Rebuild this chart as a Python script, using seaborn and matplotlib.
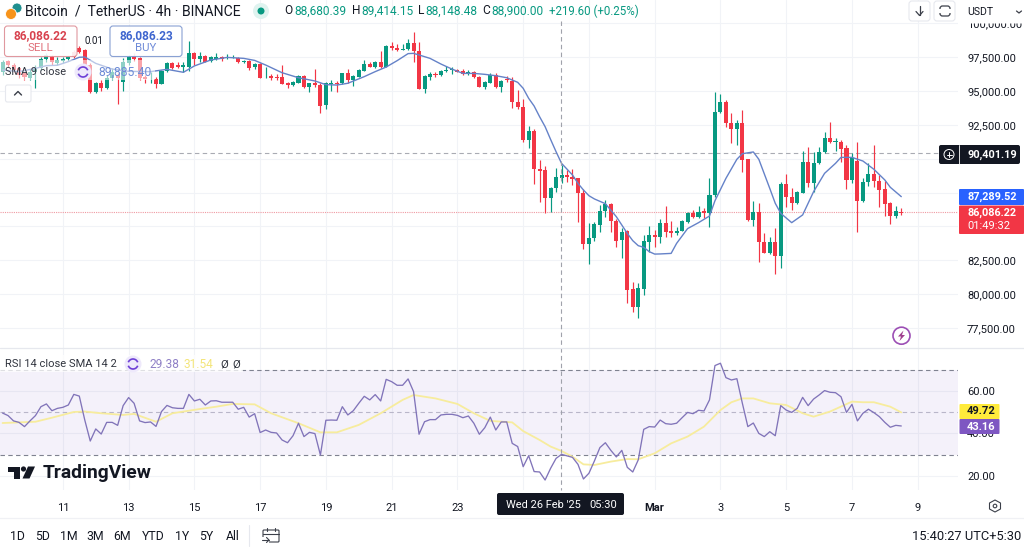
import matplotlib
matplotlib.use('Agg')
import matplotlib.pyplot as plt
from matplotlib.patches import Arc, Circle, FancyBboxPatch, Polygon, Rectangle
import seaborn as sns

# 4h candles, left to right
opens = [96430, 97210, 96920, 96670, 96300, 95980, 96430, 96670, 97340, 97530,
         97040, 97210, 97340, 97900, 98200, 98030, 96920, 94900, 95620, 95200,
         95940, 96180, 95690, 97090, 97580, 97410, 96010, 95860, 95890, 95520,
         96500, 97040, 96920, 96800, 96800, 97830, 97340, 97580, 97210, 97390,
         97530, 97460, 97480, 97460, 97140, 97210, 96800, 96990, 96010, 96110,
         96060, 96010, 95570, 95420, 95620, 96110, 95270, 95570,
         95440, 93970, 95520, 95570, 95570, 96300, 95810, 96060, 96500, 96970,
         96750, 97120, 96800, 98320, 98200, 98030, 98080, 98520, 97980, 95150,
         96060, 96230, 96180, 96500, 96550, 96550, 96480, 96350, 96430, 96060,
         95320, 95610, 96180, 95270, 95860, 95740, 94210, 93840, 91380, 92050,
         89240, 89170, 87080, 87810, 88600, 88800, 88680, 88550, 87440, 83700,
         84120, 85110, 86170, 86630, 85430, 84000, 84640, 80360, 79080,
         80410, 83880, 84370, 84250, 85230, 84660, 84490, 84690, 85350, 85970,
         85720, 86140, 85970, 87320, 93430, 94160, 92660, 92190, 92660, 89960,
         85480, 86090, 83880, 83020, 83830, 82840, 88110, 87200, 86710, 87490,
         89730, 88180, 89660, 90520, 91510, 91260, 91260, 90770, 88430, 89830,
         86900, 88260, 88850, 88380, 87740, 86710, 85800, 86090]
closes = [97170, 96920, 96550, 96180, 96010, 96430, 96670, 97340, 97660, 97120,
          97290, 97360, 97480, 97530, 97900, 96920, 94900, 95620, 95200, 95940,
          96430, 95940, 97170, 97530, 97340, 95940, 95860, 95910, 95520, 96500,
          97040, 96720, 96800, 96920, 97830, 97360, 97580, 97170, 97480, 97480,
          97340, 97530, 97530, 97140, 97240, 96670, 96990, 95980, 96060, 95940,
          95940, 95520, 95440, 95690, 96110, 95270, 95570, 95440,
          93920, 95570, 95570, 95520, 96300, 95810, 96110, 96550, 96970, 96800,
          97170, 96750, 98320, 98150, 98030, 98080, 98520, 97950, 95170, 96110,
          96260, 96180, 96500, 96550, 96600, 96430, 96260, 96430, 96010, 95320,
          95660, 96180, 95270, 95760, 95810, 94160, 93800, 91380, 92050, 89220,
          89120, 87080, 87860, 88630, 88800, 88630, 88530, 87440, 83700, 84170,
          85180, 86170, 86630, 85380, 83950, 84590, 80310, 79080, 80430,
          83920, 84370, 84250, 85230, 84620, 84490, 84690, 85430, 85970, 85720,
          86090, 85970, 87320, 93470, 94160, 92610, 92190, 92660, 89910, 85480,
          86090, 83880, 83060, 83830, 82840, 88110, 87150, 86710, 87520, 89730,
          88180, 89660, 90520, 91510, 91210, 91310, 90720, 88430, 90080, 86900,
          88310, 88850, 88360, 87690, 86660, 85800, 86140, 86020]
highs = [97290, 97290, 97090, 96800, 96430, 96600, 96920, 97530, 97780, 97660,
         97480, 97530, 97580, 98030, 98320, 98080, 97040, 95690, 95810, 96180,
         96670, 96300, 97410, 97660, 97780, 97480, 96180, 96430, 96010, 96550,
         97120, 97170, 97170, 97170, 98720, 97900, 97900, 97660, 97580, 97830,
         97610, 97730, 97660, 97530, 97290, 97260, 97040, 97040, 96800, 96250,
         96250, 96920, 95690, 95740, 96180, 96160, 95620, 96600,
         95570, 95690, 95810, 95740, 96350, 96600, 96160, 96600, 97290, 97170,
         97240, 97980, 98370, 98640, 98450, 98470, 98820, 99380, 98640, 96180,
         96430, 96430, 96550, 96850, 96750, 96600, 96600, 96550, 96480, 96110,
         95710, 96300, 96350, 95810, 96110, 96060, 95070, 94390, 92420, 92170,
         89900, 89460, 87910, 89340, 89540, 89170, 89220, 88600, 87740, 85280,
         85350, 86580, 86950, 86700, 85530, 84860, 84740, 80920, 80800,
         84370, 85030, 84740, 85530, 86510, 85430, 84980, 85480, 86090, 86210,
         86510, 86340, 88600, 94950, 94780, 94340, 93350, 92860, 93600, 90000,
         86900, 86760, 84490, 84250, 84860, 88310, 88870, 87810, 87640, 90600,
         90890, 90520, 90890, 92000, 92690, 91510, 91380, 91010, 90400, 91210,
         88550, 89660, 91010, 88800, 88380, 86780, 86530, 86340]
lows = [96180, 96800, 96430, 95940, 95810, 95810, 95200, 96550, 97170, 96920,
        96920, 97090, 97240, 97410, 97780, 96800, 94830, 94880, 95020, 95120,
        95810, 94020, 95020, 96920, 97240, 95810, 95570, 95570, 95200, 95490,
        96430, 96620, 96720, 96430, 96500, 96920, 97170, 97120, 97170, 97290,
        97210, 97390, 97410, 97090, 97040, 96550, 96600, 95940, 95960, 95810,
        95810, 95490, 95200, 95370, 95570, 95220, 94950, 95270,
        93350, 93650, 95020, 94950, 95520, 95570, 95390, 96010, 96450, 96750,
        96700, 96720, 96750, 98030, 97980, 98000, 98030, 97170, 95120, 94830,
        95810, 96060, 96130, 96430, 96260, 96380, 96210, 96180, 95960, 95270,
        95150, 95570, 95220, 94950, 95690, 93720, 93650, 91260, 90820, 88140,
        86830, 85970, 86090, 87570, 88180, 88300, 88060, 85350, 83310, 82200,
        83920, 84610, 85720, 84570, 83510, 82650, 79370, 78710, 78220,
        79940, 83140, 83510, 83750, 84250, 84250, 84370, 84640, 85230, 85600,
        85600, 85600, 84980, 87200, 93380, 92370, 91140, 91010, 89040, 85430,
        85030, 82400, 83020, 82970, 81460, 81960, 86460, 86210, 86660, 87450,
        87890, 87570, 89610, 90450, 91190, 90600, 89780, 87770, 88180, 84570,
        86830, 87990, 87890, 86460, 85770, 85160, 85650, 85850]

# SMA 9, read at the candles where the line bends
sma_pos = [0, 3, 6, 8, 10, 12, 14, 15, 17, 20, 23, 27, 30, 33, 35, 38, 41, 44, 46, 48,
           51, 54, 57, 59, 61, 63, 66, 68, 70, 72, 74, 75, 76, 78, 80, 82, 84, 86, 88, 90,
           92, 94, 95, 96, 97, 98, 99, 100, 101, 102, 104, 105, 106, 107, 108, 110, 112, 114, 115, 116,
           117, 118, 119, 120, 122, 123, 125, 127, 129, 130, 132, 134, 135, 137, 138, 140, 141, 142, 144, 146,
           148, 150, 152, 153, 155, 157, 159, 161, 162, 164]
sma_vals = [96550, 96430, 96670, 96870, 96900, 97170, 97490, 97510, 97040, 96620,
            96450, 96430, 96600, 96380, 96850, 97290, 97480, 97410, 97260, 96920,
            96350, 95980, 95740, 95470, 95440, 95570, 96060, 96430, 96770, 97240,
            97760, 97780, 97660, 97410, 96990, 96620, 96300, 96300, 96230, 96130,
            95980, 95640, 95200, 94460, 93890, 93100, 92370, 91430, 90520, 89660,
            88800, 88180, 87690, 87270, 87030, 86680, 85720, 84490, 83950, 83580,
            83460, 83140, 82960, 82970, 83010, 83750, 84840, 85280, 85770, 86900,
            88550, 89960, 90370, 90500, 89960, 87810, 86710, 85970, 85280, 85850,
            87570, 88920, 89660, 90100, 90100, 89830, 89220, 88430, 87890, 87200]

rsi_vals = [49.6, 48.4, 45.9, 45.2, 43.2, 45.9, 48.4, 52.6, 53.9, 50.7,
            51.8, 52.3, 53.4, 58.4, 57.6, 46.3, 36.4, 42.1, 39.7, 45.2,
            45.2, 43.8, 53.1, 56.9, 54.2, 45.9, 45.1, 45.4, 43.3, 50.3,
            53.2, 52.1, 51.8, 51.8, 58.4, 55.3, 56.1, 53.4, 55.3, 55.4,
            54.7, 54.7, 54.7, 51.4, 52.3, 47.7, 49.3, 40.4, 41.6, 40.5,
            40.2, 36.9, 35.6, 38.9, 44.8, 38.5, 40.5, 39.9, 29.8, 46.2,
            46.3, 46.2, 52.6, 48.7, 50.7, 54.2, 57.5, 55.8, 58.3, 55.3,
            65.5, 64.4, 62.7, 62.7, 65.7, 59.7, 39.6, 45.5, 46.5, 46.5,
            48.7, 49.0, 49.0, 48.5, 47.4, 48.2, 44.8, 39.6, 42.7, 47.7,
            41.6, 45.4, 45.4, 35.3, 33.8, 24.3, 29.5, 22.0, 21.8, 18.0,
            23.5, 28.2, 30.1, 29.4, 28.7, 25.4, 18.5, 21.2, 27.0, 33.3,
            35.6, 32.0, 28.9, 32.0, 24.0, 21.8, 27.5, 41.9, 43.2, 43.0,
            46.3, 44.6, 44.3, 44.8, 47.4, 49.9, 49.3, 50.9, 50.6, 55.8,
            72.0, 73.1, 66.3, 65.2, 65.8, 54.2, 43.2, 44.9, 40.0, 38.5,
            40.8, 38.9, 53.1, 51.0, 49.9, 51.8, 57.0, 53.1, 56.2, 58.1,
            60.2, 59.4, 59.2, 57.3, 49.9, 53.7, 45.9, 49.5, 51.4, 49.8,
            47.9, 45.2, 42.9, 43.8, 43.5]
rsi_sma_pos = [0, 3, 6, 9, 13, 15, 18, 22, 24, 28, 31, 36, 39, 42, 46, 49, 54, 58, 61, 65,
               69, 73, 75, 79, 83, 86, 89, 93, 95, 98, 100, 102, 104, 106, 108, 111, 114, 116, 119, 122,
               125, 128, 131, 133, 135, 137, 140, 143, 146, 148, 151, 155, 157, 159, 162, 164]
rsi_sma_vals = [44.9, 45.2, 45.5, 47.4, 50.1, 50.3, 49.5, 48.7, 49.2, 45.5,
                49.5, 51.5, 52.6, 53.9, 53.7, 49.5, 44.8, 40.5, 40.5, 44.0,
                49.5, 55.8, 58.1, 56.5, 53.9, 49.5, 45.9, 45.2, 41.1, 36.9,
                33.8, 31.7, 29.0, 25.4, 25.1, 26.7, 27.9, 27.8, 30.6, 35.3,
                38.5, 43.2, 51.0, 54.7, 56.5, 56.5, 54.2, 53.4, 49.5, 47.9,
                50.3, 55.0, 54.7, 54.7, 52.6, 49.9]

price_ticks = [100000, 97500, 95000, 92500, 90000, 87500, 85000, 82500, 80000, 77500]
price_hidden = [90000, 85000]  # these two sit fully behind the price tags
rsi_ticks = [60, 40, 20]
day_pos = [11, 23, 35, 47, 59, 71, 83, 95, 107, 119, 131, 143, 155, 167]
day_labels = ['11', '13', '15', '17', '19', '21', '23', '', '', 'Mar', '3', '5', '7', '9']
hover_price = 90401.19
last_price = 86086.22

GREEN = '#089981'
RED = '#f23645'
GRID = '#f1f3f7'
TEXT = '#131722'
W, H = 1024, 547

sns.set_theme(style='white')
plt.rcParams['font.family'] = ['Roboto', 'DejaVu Sans']

fig = plt.figure(figsize=(W / 100, H / 100), dpi=100, facecolor='white')
ax = fig.add_axes([0, 1 - 347.5 / H, 958 / W, 347.5 / H])
ax_rsi = fig.add_axes([0, 1 - 490 / H, 958 / W, 141 / H])
top = fig.add_axes([0, 0, 1, 1], facecolor='none')

# price pane
colors = [GREEN if c >= o else RED for o, c in zip(opens, closes)]
idx = list(range(len(opens)))
bottoms = [min(o, c) for o, c in zip(opens, closes)]
heights = [max(abs(c - o), 30) for o, c in zip(opens, closes)]
ax.vlines(idx, lows, highs, colors=colors, linewidth=0.85, zorder=3)
ax.bar(idx, heights, bottom=bottoms, width=0.74, color=colors, linewidth=0, zorder=4)
sns.lineplot(x=sma_pos, y=sma_vals, ax=ax, color='#6582c8', linewidth=1.0, zorder=5, errorbar=None)
ax.axhline(hover_price, color='#a9abb3', linewidth=0.8, dashes=(4, 3), zorder=2)
ax.axhline(last_price, color='#ef9aa2', linewidth=0.8, dashes=(1, 1), zorder=2)

ax.set_xlim(-0.47, 174.35)
ax.set_ylim(95000 - (347.5 - 91) * 73.83, 95000 + 91 * 73.83)
ax.set_xticks(day_pos)
ax.set_yticks(price_ticks)
ax.set_yticklabels(['' if p in price_hidden else f'{p:,.2f}' for p in price_ticks], fontsize=8, color=TEXT)
ax.yaxis.tick_right()
ax.tick_params(axis='y', length=0, pad=6.5)
ax.tick_params(axis='x', length=0, labelbottom=False)
ax.grid(True, color=GRID, linewidth=0.8)
ax.set_axisbelow(True)
sns.despine(ax=ax, left=True, bottom=True, right=True, top=True)

# RSI pane
ax_rsi.axhspan(30, 70, color='#7e57c2', alpha=0.08, linewidth=0, zorder=1)
for level, col in [(70, '#7f8290'), (50, '#b9b6c9'), (30, '#7f8290')]:
    ax_rsi.axhline(level, color=col, linewidth=0.8, dashes=(4, 3), zorder=2)
sns.lineplot(x=rsi_sma_pos, y=rsi_sma_vals, ax=ax_rsi, color='#f7ec9d', linewidth=1.3, zorder=3, errorbar=None)
sns.lineplot(x=idx, y=rsi_vals, ax=ax_rsi, color='#8174b9', linewidth=0.95, zorder=4, errorbar=None)

ax_rsi.set_xlim(-0.47, 174.35)
ax_rsi.set_ylim(60 - (490 - 391) / 2.12, 60 + (391 - 349) / 2.12)
ax_rsi.set_xticks(day_pos)
ax_rsi.set_xticklabels(day_labels, fontsize=8, color=TEXT)
ax_rsi.get_xticklabels()[day_labels.index('Mar')].set_fontweight('bold')
ax_rsi.set_yticks(rsi_ticks)
ax_rsi.set_yticklabels([f'{v:.2f}' for v in rsi_ticks], fontsize=8, color=TEXT)
ax_rsi.yaxis.tick_right()
ax_rsi.tick_params(axis='y', length=0, pad=6.5)
ax_rsi.tick_params(axis='x', length=0, pad=9.5)
ax_rsi.grid(True, color=GRID, linewidth=0.8)
ax_rsi.set_axisbelow(True)
sns.despine(ax=ax_rsi, left=True, bottom=True, right=True, top=True)

# everything below is the TradingView screen furniture, in pixels
top.set_xlim(0, W)
top.set_ylim(H, 0)
top.axis('off')


def box(x0, y0, x1, y1, fc, ec='none', lw=0.8, round_=1.5, z=6, alpha=None):
    top.add_patch(FancyBboxPatch((x0, y0), x1 - x0, y1 - y0, boxstyle=f'round,pad=0,rounding_size={round_}',
                                 fc=fc, ec=ec, lw=lw, zorder=z, alpha=alpha))


def label(x, y, s, size=8, color=TEXT, ha='left', weight='normal', z=8):
    top.text(x, y, s, fontsize=size, color=color, ha=ha, va='center', fontweight=weight, zorder=z)


def refresh_icon(x, y):
    top.add_patch(Circle((x, y), 8.5, fc='#eee9fb', ec='none', zorder=7))
    top.add_patch(Arc((x, y), 10, 10, theta1=20, theta2=160, ec='#6d3fd6', lw=1.2, zorder=8))
    top.add_patch(Arc((x, y), 10, 10, theta1=200, theta2=340, ec='#6d3fd6', lw=1.2, zorder=8))


# crosshair
top.plot([561, 561], [21, 490], color='#a0a2ab', linewidth=0.8, dashes=(4, 3), zorder=1)

# separators
top.plot([0, W], [348.3, 348.3], color='#e6e8ee', linewidth=0.9, zorder=1)
top.plot([0, W], [517.5, 517.5], color='#f0f1f5', linewidth=0.9, zorder=1)
top.plot([249, 249], [525, 546], color='#e6e8ee', linewidth=0.8, zorder=1)

# header
top.add_patch(Circle((17, 8), 5, fc='#1f8f8f', ec='white', lw=0.6, zorder=7))
top.add_patch(Circle((11, 14), 5.5, fc='#f7931a', ec='white', lw=0.6, zorder=8))
label(25, 11.5, 'Bitcoin  /  TetherUS · 4h · BINANCE', size=10.05)
top.add_patch(Circle((261, 11), 8, fc='#dff3ef', ec='none', zorder=7))
top.add_patch(Circle((261, 11), 3.5, fc=GREEN, ec='none', zorder=8))
for x_l, x_v, letter, val in [(284, 294, 'O', '88,680.39'), (352, 361, 'H', '89,414.15'),
                              (418, 425, 'L', '88,148.48'), (482, 491, 'C', '88,900.00')]:
    label(x_l, 11, letter, size=8.6)
    label(x_v, 11, val, size=8.6, color=GREEN)
label(549, 11, '+219.60 (+0.25%)', size=8.3, color=GREEN)

# top right buttons
box(962, 0, 1024, 23.5, 'white', z=6, round_=0.5)
box(909, 1, 930, 21, 'white', ec='#e6e8ee', round_=3)
box(934, 1, 955, 21, 'white', ec='#e6e8ee', round_=3)
top.plot([919.5, 919.5], [6, 15], color='#3b3f49', linewidth=0.9, zorder=8)
top.plot([916, 919.5, 923], [11.5, 15.5, 11.5], color='#3b3f49', linewidth=0.9, zorder=8)
box(940, 6, 950, 16, 'none', ec='#3b3f49', lw=0.9, round_=2.5, z=8)
top.add_patch(Rectangle((938, 9), 14, 4, fc='white', ec='none', zorder=8.5))
label(967, 12, 'USDT', size=7.6)
top.plot([1016.5, 1019, 1021.5], [11, 13, 11], color='#3b3f49', linewidth=0.9, zorder=8)

# sell / buy
top.add_patch(Rectangle((0, 60), 155, 20, fc='white', ec='none', alpha=0.55, zorder=5))
box(4.5, 26, 77, 56.5, 'white', ec='#dd8d95', round_=3, alpha=0.9)
box(110, 26, 182, 56.5, 'white', ec='#7d97cf', round_=3, alpha=0.9)
label(40.5, 35.5, '86,086.22', size=8.6, color='#d8434f', ha='center', weight='bold')
label(40.5, 48, 'SELL', size=8.2, color='#e0707a', ha='center')
label(146, 35.5, '86,086.23', size=8.6, color='#3f66cf', ha='center', weight='bold')
label(146, 48, 'BUY', size=8.2, color='#6f8bd8', ha='center')
label(93.5, 41, '0.01', size=7, ha='center')
label(5, 72, 'SMA 9 close', size=7.9, color='#30343e')
refresh_icon(83, 72)
label(98, 72, '89,885.40', size=8.7, color='#6d8bd6')
box(5.5, 85, 31, 102, 'white', ec='#e6e8ee', round_=2)
top.plot([14.5, 18, 21.5], [95, 91.5, 95], color='#3b3f49', linewidth=1.0, zorder=8)

# RSI legend
top.add_patch(Rectangle((0, 355), 243, 17, fc='white', ec='none', alpha=0.75, zorder=5))
label(5, 364, 'RSI 14 close SMA 14 2', size=8.0, color='#30343e')
refresh_icon(133, 364)
label(149, 364, '29.38', size=8.6, color='#8f80c6')
label(184, 364, '31.54', size=8.6, color='#f3e57a')
label(220, 364, 'Ø', size=8.2, color='#30343e')
label(232, 364, 'Ø', size=8.2, color='#30343e')

# price labels on the right
box(939, 145, 1020, 164, TEXT, round_=2)
top.plot([959, 959], [145, 164], color='white', linewidth=0.6, zorder=7)
top.add_patch(Circle((949, 154.5), 5, fc='none', ec='white', lw=0.7, zorder=8))
top.plot([946.5, 951.5], [154.5, 154.5], color='white', linewidth=0.7, zorder=8)
top.plot([949, 949], [152, 157], color='white', linewidth=0.7, zorder=8)
label(967, 154.5, '90,401.19', size=7.8, color='white', weight='bold')
box(959, 189, 1024, 205, '#2962ff', round_=1)
label(967, 197, '87,289.52', size=7.8, color='white', weight='bold')
box(959, 205.5, 1024, 234, RED, round_=1)
label(967, 213, '86,086.22', size=7.8, color='white', weight='bold')
label(967, 226, '01:49:32', color='white')
box(959.5, 404, 999.5, 419, '#ffeb3b', round_=1)
label(967, 411.5, '49.72', weight='bold')
box(959.5, 419, 999.5, 434, '#7e57c2', round_=1)
label(967, 426.5, '43.16', color='white', weight='bold')

# alert badge
top.add_patch(Circle((901.5, 335.7), 8.5, fc='white', ec='#9c4fb5', lw=1.2, zorder=7))
top.add_patch(Polygon([(903.5, 330.5), (898, 336.5), (901, 336.5), (899.5, 341), (905, 335), (902, 335)],
                      fc='#a0408f', ec='none', zorder=8))

# TradingView logo
top.add_patch(Polygon([(8.3, 466.5), (20, 466.5), (20, 478.5), (14, 478.5), (14, 471.5), (8.3, 471.5)],
                      fc=TEXT, ec='none', zorder=8))
top.add_patch(Circle((23.5, 469), 2.6, fc=TEXT, ec='none', zorder=8))
top.add_patch(Polygon([(28, 466.5), (35, 466.5), (29.5, 478.5), (22.5, 478.5)], fc=TEXT, ec='none', zorder=8))
label(43, 473.5, 'TradingView', size=13.9, weight='bold')

# crosshair date
box(497, 493, 624, 515, TEXT, round_=2)
label(506, 505.5, "Wed 26 Feb '25", size=7.9, color='white')
label(589, 505.5, '05:30', color='white')

# gear
top.add_patch(Polygon([(995, 500), (1000.5, 503), (1000.5, 509), (995, 512), (989.5, 509), (989.5, 503)],
                      fc='white', ec='#3b3f49', lw=0.8, zorder=8))
top.add_patch(Circle((995, 506), 1.8, fc='white', ec='#3b3f49', lw=0.8, zorder=9))

# range buttons
for x_c, s in [(17.5, '1D'), (43, '5D'), (69, '1M'), (95.5, '3M'), (122, '6M'), (153, 'YTD'),
               (182.5, '1Y'), (206.5, '5Y'), (232.5, 'All')]:
    label(x_c, 536, s, size=8.8, ha='center')
box(263, 530, 279, 542, 'none', ec='#3b3f49', lw=0.8, round_=1, z=8)
top.plot([263, 279], [533.5, 533.5], color='#3b3f49', linewidth=0.8, zorder=8)
top.plot([267, 267], [528, 531], color='#3b3f49', linewidth=0.8, zorder=8)
top.plot([275, 275], [528, 531], color='#3b3f49', linewidth=0.8, zorder=8)
top.add_patch(Rectangle((261, 537), 8, 6, fc='white', ec='none', zorder=8.5))
top.plot([262, 269], [540, 540], color='#3b3f49', linewidth=0.8, zorder=9)
top.plot([266.5, 269, 266.5], [537.5, 540, 542.5], color='#3b3f49', linewidth=0.8, zorder=9)
label(1021, 536, '15:40:27 UTC+5:30', size=9.3, ha='right')

fig.savefig('out.png', dpi=100)
plt.close(fig)
